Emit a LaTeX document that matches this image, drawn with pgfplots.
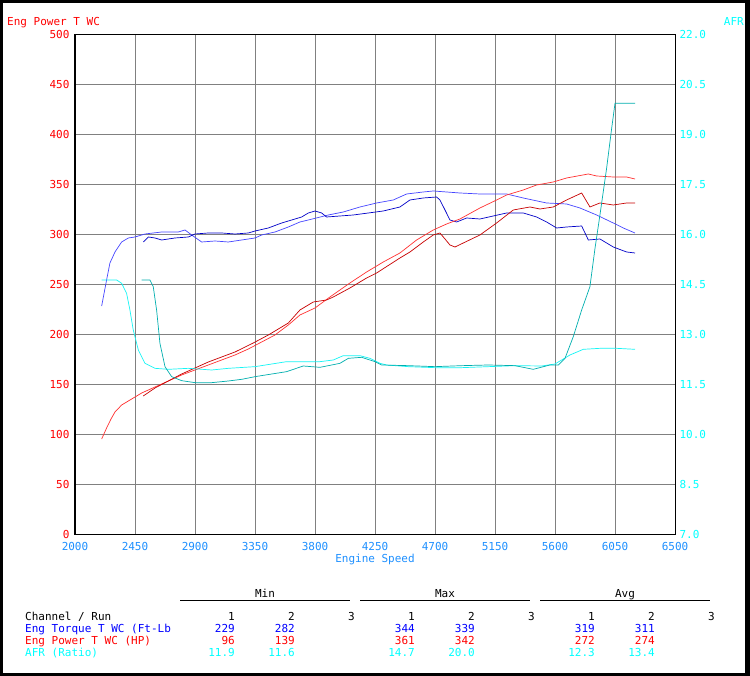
\documentclass[border=0pt]{standalone}
\usepackage{fontspec}
\setmainfont{DejaVu Sans Mono}
\usepackage{pgfplots}
\pgfplotsset{compat=1.18}
\definecolor{ared}{RGB}{255,0,0}
\definecolor{acyan}{RGB}{0,255,255}
\definecolor{xblue}{RGB}{30,144,255}
\definecolor{tblue}{RGB}{0,0,255}
\definecolor{gridgray}{RGB}{128,128,128}
\definecolor{tqA}{RGB}{70,70,255}
\definecolor{tqB}{RGB}{0,0,200}
\definecolor{pwA}{RGB}{255,50,50}
\definecolor{pwB}{RGB}{200,0,0}
\definecolor{afA}{RGB}{20,245,245}
\definecolor{afB}{RGB}{0,175,175}
\newcommand\f{\fontsize{11}{13}\selectfont}
\begin{document}
\begin{tikzpicture}[x=1pt,y=1pt]
\useasboundingbox (0,0) rectangle (750,676);
\fill[white] (0,0) rectangle (750,676);
% outer frame
\fill[black] (0,0) rectangle (3,676);
\fill[black] (745,0) rectangle (750,676);
\fill[black] (0,673) rectangle (750,676);
\fill[black] (0,0) rectangle (750,3);

\begin{axis}[
  at={(75pt,141pt)}, anchor=south west,
  scale only axis, width=600pt, height=500pt,
  xmin=2000, xmax=6500, ymin=0, ymax=500,
  xtick={2000,2450,...,6500}, ytick={0,50,...,500},
  grid=major, major grid style={gridgray, line width=1pt},
  major tick length=0pt,
  axis line style={black, line width=1pt},
  /pgf/number format/assume math mode=true,
  /pgf/number format/1000 sep={},
  ticklabel style={font=\f},
  yticklabel style={text=ared, xshift=-2pt},
  xticklabel style={text=xblue, yshift=-4pt},
  xlabel={Engine Speed},
  xlabel style={font=\f, text=xblue, at={(axis description cs:0.5,0)}, anchor=base, yshift=-28pt},
  clip=false,
]
% Run 1 torque
\addplot[tqA, line width=0.7pt] coordinates {
(2200,229) (2237,255) (2262,272) (2300,283) (2350,293) (2400,297) (2450,298)
(2525,301) (2650,303) (2775,303) (2825,305) (2875,300) (2950,293) (3050,294)
(3150,293) (3250,295) (3350,297) (3400,300) (3500,303) (3600,308) (3687,313)
(3750,315) (3900,320) (4012,323) (4137,328) (4262,332) (4387,335) (4487,341)
(4612,343) (4687,344) (4787,343) (4887,342) (5037,341) (5237,341) (5362,337)
(5537,332) (5687,331) (5787,327) (5912,320) (6037,312) (6112,307) (6200,302)
};
% Run 2 torque
\addplot[tqB, line width=0.7pt] coordinates {
(2512,293) (2550,298) (2600,297) (2650,295) (2750,297) (2850,298) (2900,301)
(3000,302) (3100,302) (3200,301) (3300,302) (3350,304) (3450,307) (3550,312)
(3700,318) (3750,322) (3800,324) (3850,322) (3887,318) (3987,319) (4087,320)
(4200,322) (4312,324) (4437,328) (4512,335) (4612,337) (4712,338) (4737,335)
(4775,325) (4812,315) (4862,313) (4937,317) (5037,316) (5137,319) (5237,322)
(5362,322) (5462,318) (5537,313) (5612,307) (5687,308) (5800,309) (5850,295)
(5937,296) (6037,288) (6137,283) (6200,282)
};
% Run 1 power
\addplot[pwA, line width=0.7pt] coordinates {
(2200,96) (2237,107) (2270,116) (2300,123) (2350,130) (2400,134) (2450,138)
(2500,142) (2600,148) (2700,154) (2800,160) (2900,165) (3000,170) (3100,175)
(3200,180) (3300,186) (3400,193) (3500,200) (3600,210) (3687,220) (3800,227)
(3912,238) (4062,252) (4187,263) (4312,273) (4437,282) (4562,295) (4687,305)
(4787,311) (4887,316) (5037,327) (5162,335) (5237,340) (5362,345) (5462,350)
(5587,353) (5687,357) (5850,361) (5912,359) (6037,358) (6137,358) (6200,356)
};
% Run 2 power
\addplot[pwB, line width=0.7pt] coordinates {
(2512,139) (2600,147) (2700,154) (2800,161) (2900,167) (3000,173) (3100,178)
(3200,183) (3337,192) (3450,200) (3600,212) (3687,225) (3787,233) (3887,235)
(3937,238) (4062,247) (4187,257) (4262,262) (4437,277) (4512,283) (4612,293)
(4687,300) (4737,302) (4775,296) (4812,290) (4850,288) (4912,292) (5037,300)
(5162,312) (5287,325) (5412,328) (5487,326) (5587,328) (5687,335) (5800,342)
(5862,328) (5937,332) (6037,330) (6137,332) (6200,332)
};
\end{axis}

\begin{axis}[
  at={(75pt,141pt)}, anchor=south west,
  scale only axis, width=600pt, height=500pt,
  xmin=2000, xmax=6500, ymin=7, ymax=22,
  axis x line=none, axis y line*=right,
  ytick={7,8.5,...,22},
  major tick length=0pt,
  axis line style={black, line width=1pt},
  /pgf/number format/assume math mode=true,
  /pgf/number format/.cd, fixed, fixed zerofill, precision=1,
  /pgfplots/.cd,
  yticklabel style={font=\f, text=acyan, xshift=1pt},
  clip=false,
]
% Run 1 AFR
\addplot[afA, line width=0.7pt] coordinates {
(2200,14.65) (2312,14.65) (2350,14.55) (2387,14.25) (2412,13.75) (2437,13.15)
(2475,12.55) (2525,12.15) (2600,12.0) (2700,11.97) (2850,12.0) (3025,11.95)
(3150,12.0) (3350,12.05) (3587,12.2) (3837,12.2) (3937,12.25) (4012,12.38)
(4137,12.38) (4212,12.3) (4287,12.15) (4337,12.1) (4500,12.05) (4700,12.02)
(4900,12.02) (5100,12.05) (5300,12.08) (5500,12.07) (5600,12.13) (5712,12.4)
(5812,12.57) (5937,12.6) (6062,12.6) (6200,12.57)
};
% Run 2 AFR
\addplot[afB, line width=0.7pt] coordinates {
(2500,14.65) (2562,14.65) (2587,14.45) (2612,13.75) (2637,12.75) (2675,12.05)
(2725,11.75) (2800,11.63) (2900,11.57) (3025,11.57) (3150,11.62) (3250,11.67)
(3350,11.75) (3587,11.9) (3712,12.07) (3837,12.03) (3987,12.15) (4050,12.3)
(4150,12.33) (4250,12.2) (4300,12.1) (4500,12.08) (4700,12.05) (4900,12.08)
(5100,12.1) (5300,12.08) (5437,11.97) (5562,12.1) (5625,12.1) (5675,12.3)
(5737,12.95) (5800,13.75) (5862,14.45) (5900,15.6) (5937,16.6) (5987,18.0)
(6025,19.2) (6050,19.95) (6200,19.95)
};
\end{axis}

\node[font=\f, text=ared, anchor=base west, inner sep=0] at (7,650) {Eng Power T WC};
\node[font=\f, text=acyan, anchor=base east, inner sep=0] at (744,650) {AFR};

% statistics table
\foreach \lbl/\cx/\xa/\xb in {Min/265/180/350, Max/445/360/530, Avg/625/540/710}{
  \node[font=\f, anchor=base, inner sep=0] at (\cx,78) {\lbl};
  \draw[black, line width=1pt] (\xa,75) -- (\xb,75);
}
\node[font=\f, anchor=base west, inner sep=0] at (25,55) {Channel / Run};
\foreach \c/\n in {235/1,295/2,355/3,415/1,475/2,535/3,595/1,655/2,715/3}{
  \node[font=\f, anchor=base east, inner sep=0] at (\c,55) {\n};
}
\node[font=\f, text=tblue, anchor=base west, inner sep=0] at (25,43) {Eng Torque T WC (Ft-Lb};
\node[font=\f, text=ared, anchor=base west, inner sep=0] at (25,31) {Eng Power T WC (HP)};
\node[font=\f, text=acyan, anchor=base west, inner sep=0] at (25,19) {AFR (Ratio)};
\foreach \c/\v in {235/229,295/282,415/344,475/339,595/319,655/311}{
  \node[font=\f, text=tblue, anchor=base east, inner sep=0] at (\c,43) {\v};
}
\foreach \c/\v in {235/96,295/139,415/361,475/342,595/272,655/274}{
  \node[font=\f, text=ared, anchor=base east, inner sep=0] at (\c,31) {\v};
}
\foreach \c/\v in {235/11.9,295/11.6,415/14.7,475/20.0,595/12.3,655/13.4}{
  \node[font=\f, text=acyan, anchor=base east, inner sep=0] at (\c,19) {\v};
}
\end{tikzpicture}
\end{document}
